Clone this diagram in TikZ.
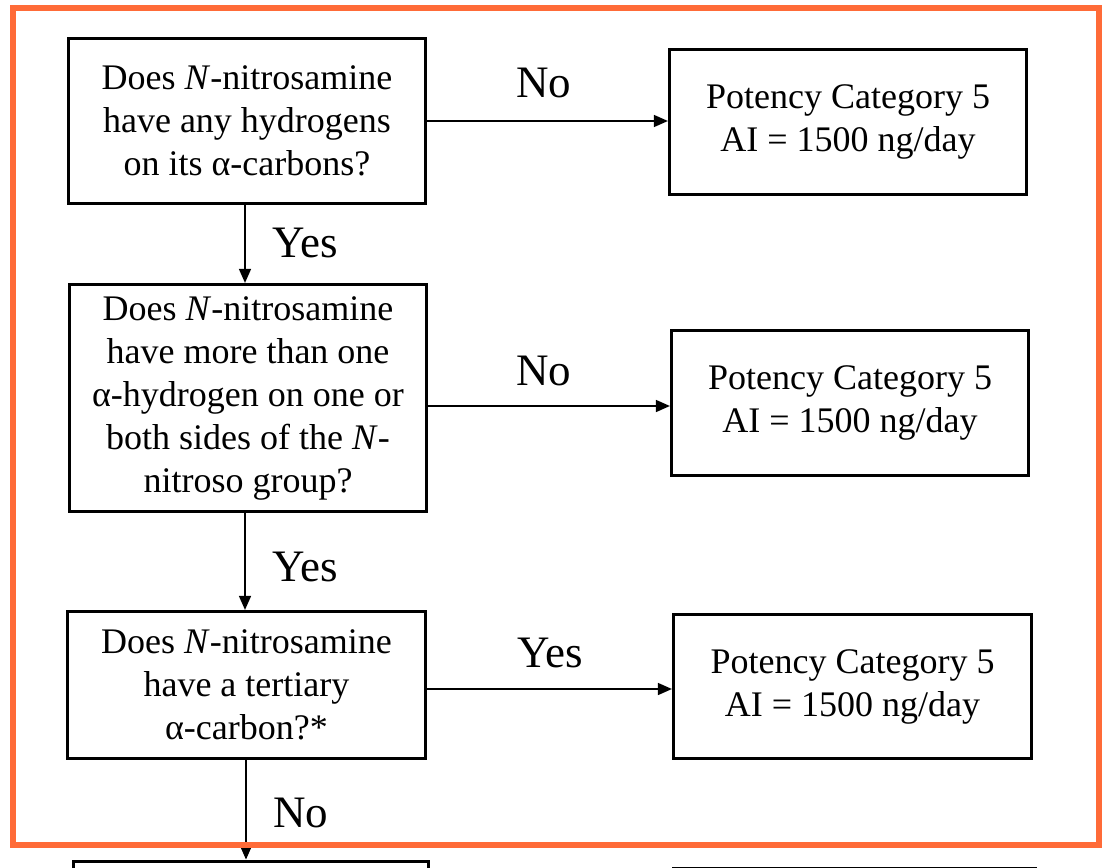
\documentclass[tikz,border=0pt]{standalone}
\usepackage{fontspec}
\setmainfont{Liberation Serif}
\usetikzlibrary{arrows.meta}
\definecolor{frameorange}{RGB}{255,107,56}
\begin{document}
\begin{tikzpicture}[x=1pt,y=-1pt,
  box/.style={draw=black,line width=3.2pt,fill=white,align=center,inner sep=0pt,
    font=\fontsize{36}{43}\selectfont},
  arr/.style={draw=black,line width=1.5pt,-{Triangle[length=14pt,width=12pt]}},
  lbl/.style={anchor=base,inner sep=0pt,font=\fontsize{45}{50}\selectfont}]
\useasboundingbox (0,0) rectangle (1102,867);
\fill[white] (0,0) rectangle (1102,867);

% question boxes
\node[box,minimum width=357pt,minimum height=165pt] (q1) at (247,121)
  {Does \textit{N}-nitrosamine\\have any hydrogens\\on its α-carbons?};
\node[box,minimum width=357pt,minimum height=227pt] (q2) at (248,398)
  {Does \textit{N}-nitrosamine\\have more than one\\α-hydrogen on one or\\both sides of the \textit{N}-\\nitroso group?};
\node[box,minimum width=358pt,minimum height=147pt] (q3) at (246.5,685)
  {Does \textit{N}-nitrosamine\\have a tertiary\\α-carbon?*};

% outcome boxes
\node[box,minimum width=357pt,minimum height=145pt] (r1) at (848,122)
  {Potency Category 5\\AI = 1500 ng/day};
\node[box,minimum width=357pt,minimum height=145pt] (r2) at (850,403)
  {Potency Category 5\\AI = 1500 ng/day};
\node[box,minimum width=358pt,minimum height=144pt] (r3) at (852.5,686.5)
  {Potency Category 5\\AI = 1500 ng/day};

% next row of boxes
\node[box,minimum width=355pt,minimum height=200pt,anchor=north] (q4) at (251,859.5) {};
\node[box,minimum width=362pt,minimum height=200pt,anchor=north] (r4) at (854.5,866.5) {};

% connectors
\draw[arr] (q1.east |- 0,121) -- (r1.west |- 0,121);
\draw[arr] (q2.east |- 0,406) -- (r2.west |- 0,406);
\draw[arr] (q3.east |- 0,689) -- (r3.west |- 0,689);
\draw[arr] (q1.south -| 245,0) -- (q2.north -| 245,0);
\draw[arr] (q2.south -| 245,0) -- (q3.north -| 245,0);
\draw[arr] (q3.south -| 246,0) -- (q4.north -| 246,0);

% connector labels
\node[lbl] (n1) at (544,97) {No};
\node[lbl] (n2) at (544,385) {No};
\node[lbl] (y3) at (550,667) {Yes};
\node[lbl] (y1) at (305,257) {Yes};
\node[lbl] (y2) at (305,581) {Yes};
\node[lbl] (n3) at (301,827) {No};

% highlight frame
\draw[frameorange,line width=6pt] (13,8) rectangle (1099,845);
\end{tikzpicture}
\end{document}
